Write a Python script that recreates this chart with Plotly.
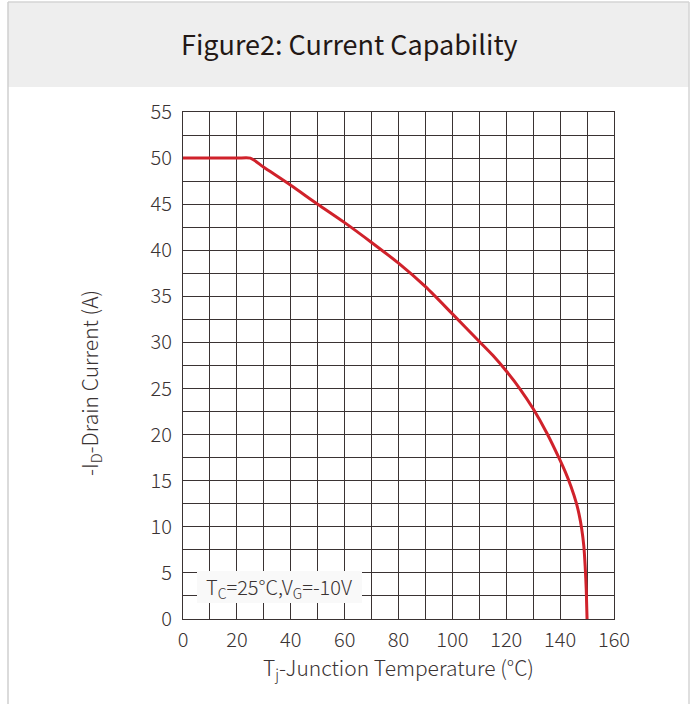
import plotly.graph_objects as go

# Junction temperature (°C) vs. maximum drain current magnitude (A)
tj = [0, 20, 25, 30, 40, 50, 60, 70, 80, 90, 100, 110, 115, 120, 125, 130, 135, 140, 142, 144,
      146, 147, 148, 148.8, 149.3, 149.7, 150]
id_a = [50, 50, 50, 49.0, 47.05, 45.0, 43.0, 40.85, 38.6, 36.05, 33.1, 30.1, 28.6, 26.9, 25.0,
        22.8, 20.2, 17.2, 15.9, 14.4, 12.6, 11.4, 9.8, 7.9, 5.7, 3.2, 0]

x_ticks = [0, 20, 40, 60, 80, 100, 120, 140, 160]
y_ticks = [0, 5, 10, 15, 20, 25, 30, 35, 40, 45, 50, 55]

W, H = 693, 704
L, R, T, B = 183, 614, 112, 619  # plot area edges in pixels

def px(x):
    return (x - L) / (R - L)

def py(y):
    return (B - y) / (B - T)

FONT = "Noto Sans CJK SC"
INK = "#3a3333"
GRID = "#3a3333"

fig = go.Figure()
fig.add_trace(go.Scatter(
    x=tj, y=id_a, mode="lines",
    line=dict(color="#d0222b", width=3, shape="spline", smoothing=0.7),
    hoverinfo="skip", showlegend=False,
))

axis_common = dict(
    showgrid=True, gridcolor=GRID, gridwidth=1,
    showline=True, linecolor=GRID, linewidth=1, mirror=True,
    zeroline=False, ticks="",
    tickfont=dict(family=FONT, size=20, color=INK, weight=300),
)

fig.update_xaxes(range=[0, 160], tickvals=x_ticks, ticklabelstandoff=3,
                 minor=dict(dtick=10, showgrid=True, gridcolor=GRID, gridwidth=1),
                 **axis_common)
fig.update_yaxes(range=[0, 55], tickvals=y_ticks, ticklabelstandoff=6,
                 minor=dict(dtick=2.5, showgrid=True, gridcolor=GRID, gridwidth=1),
                 **axis_common)

shapes = [
    # header band
    dict(type="rect", xref="paper", yref="paper", x0=px(8), x1=px(689), y0=py(87), y1=py(2),
         fillcolor="#eeeeee", line=dict(width=0), layer="below"),
    # outer frame
    dict(type="line", xref="paper", yref="paper", x0=px(8), x1=px(689), y0=py(2), y1=py(2),
         line=dict(color="#d4d4d4", width=1.5)),
    dict(type="line", xref="paper", yref="paper", x0=px(8), x1=px(8), y0=py(2), y1=py(H),
         line=dict(color="#cfcfcf", width=1.5)),
    dict(type="line", xref="paper", yref="paper", x0=px(689), x1=px(689), y0=py(2), y1=py(H),
         line=dict(color="#d4d4d4", width=1.5)),
    # condition label box
    dict(type="rect", xref="paper", yref="paper", x0=px(197), x1=px(362), y0=py(603), y1=py(571),
         fillcolor="#f9f9f9", line=dict(width=0), layer="above"),
]

annotations = [
    dict(text="Figure2: Current Capability", xref="paper", yref="paper",
         x=px(349), y=py(44), showarrow=False, xanchor="center", yanchor="middle",
         font=dict(family=FONT, size=27, color="#231815", weight=400)),
    dict(text="T<sub>j</sub>-Junction Temperature (°C)", xref="paper", yref="paper",
         x=px(398), y=py(668), showarrow=False, xanchor="center", yanchor="middle",
         font=dict(family=FONT, size=21, color=INK, weight=300)),
    dict(text="-I<sub>D</sub>-Drain Current (A)", xref="paper", yref="paper",
         x=px(90), y=py(383), showarrow=False, xanchor="center", yanchor="middle",
         textangle=-90, font=dict(family=FONT, size=21, color=INK, weight=300)),
    dict(text="T<sub>C</sub>=25°C,V<sub>G</sub>=-10V", xref="paper", yref="paper",
         x=px(279), y=py(587), showarrow=False, xanchor="center", yanchor="middle",
         font=dict(family=FONT, size=20, color=INK, weight=300)),
]

fig.update_layout(
    width=W, height=H,
    margin=dict(l=L, r=W - R, t=T, b=H - B, pad=0),
    paper_bgcolor="white", plot_bgcolor="white",
    shapes=shapes, annotations=annotations,
    showlegend=False,
)

fig.write_html("out.html")
